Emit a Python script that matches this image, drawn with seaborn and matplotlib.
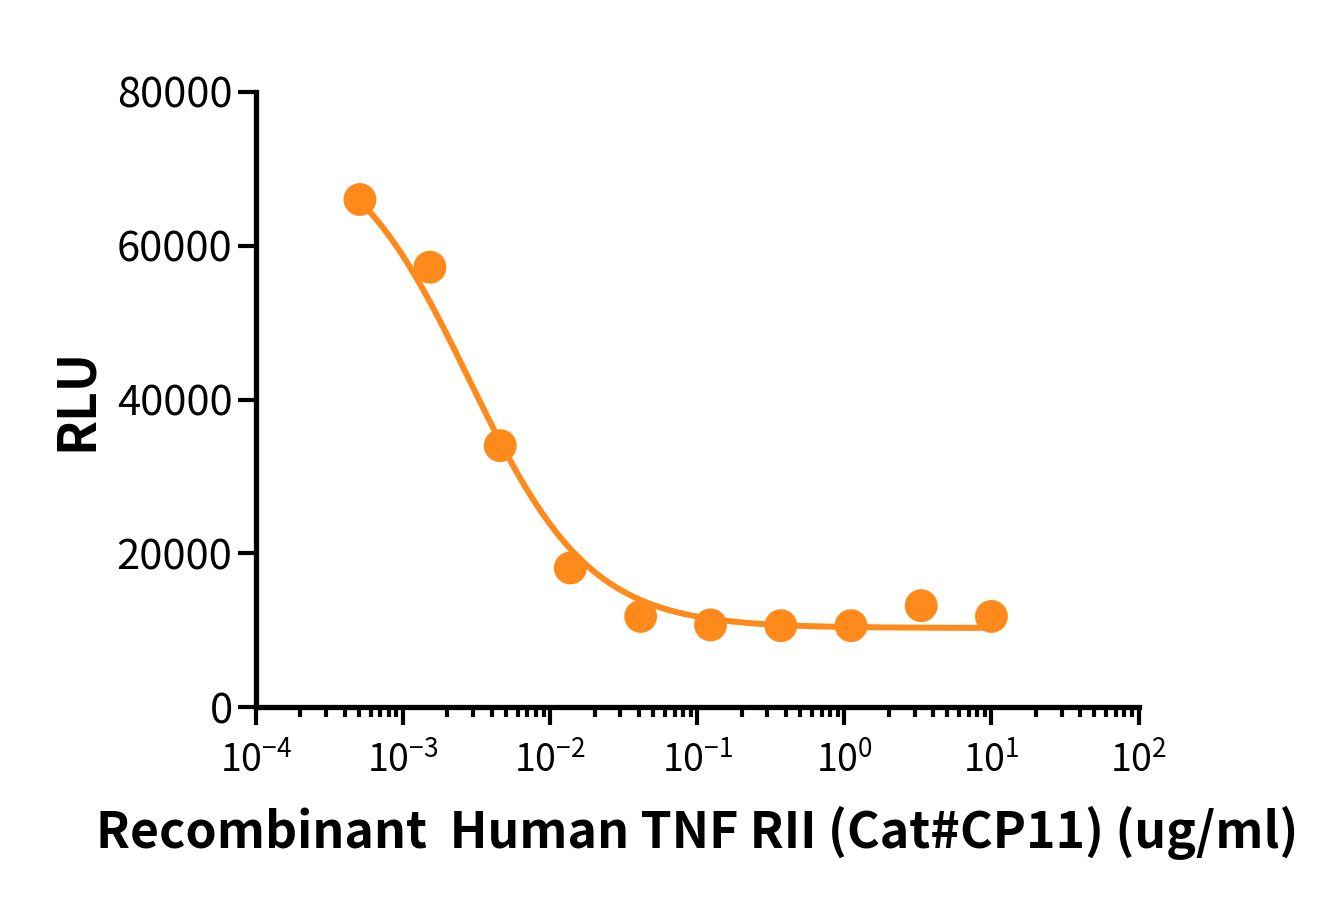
import numpy as np
import pandas as pd
import seaborn as sns
import matplotlib.pyplot as plt
from matplotlib.ticker import LogLocator, FixedLocator, NullFormatter

# measured points (3-fold dilution series)
conc = [0.000508, 0.00152, 0.00457, 0.0137, 0.0412, 0.123, 0.370, 1.11, 3.33, 10.0]
rlu = [66000, 57200, 34000, 18100, 11800, 10700, 10600, 10600, 13200, 11800]

# 4PL fit parameters
top, bottom, ec50, hill = 75000, 10300, 0.0028, 1.05

x_ticks = [1e-4, 1e-3, 1e-2, 1e-1, 1e0, 1e1, 1e2]
x_labels = ['10$^{-4}$', '10$^{-3}$', '10$^{-2}$', '10$^{-1}$', '10$^{0}$', '10$^{1}$', '10$^{2}$']
y_ticks = [0, 20000, 40000, 60000, 80000]

orange = '#FF8A1C'

sns.set_style("ticks")
plt.rcParams['font.family'] = ['Noto Sans CJK SC', 'DejaVu Sans']
plt.rcParams['mathtext.fontset'] = 'custom'
plt.rcParams['mathtext.rm'] = 'Noto Sans CJK SC'
plt.rcParams['mathtext.it'] = 'Noto Sans CJK SC'
plt.rcParams['text.color'] = 'black'
plt.rcParams['axes.labelcolor'] = 'black'

points = pd.DataFrame({'conc': conc, 'rlu': rlu})
xs = np.logspace(np.log10(conc[0]), np.log10(conc[-1]), 300)
fit = pd.DataFrame({'conc': xs,
                    'rlu': bottom + (top - bottom) / (1 + (xs / ec50) ** hill)})

fig = plt.figure(figsize=(13.41, 9.09), dpi=100)
ax = fig.add_axes([0.191, 0.222, 0.658, 0.677])

sns.lineplot(data=fit, x='conc', y='rlu', color=orange, linewidth=4.3, ax=ax)
sns.scatterplot(data=points, x='conc', y='rlu', color=orange, s=560,
                edgecolor='none', ax=ax, zorder=3)

ax.set_xscale('log')
ax.set_xlim(1e-4, 1e2)
ax.set_ylim(0, 80000)
ax.xaxis.set_major_locator(FixedLocator(x_ticks))
ax.set_xticklabels(x_labels)
ax.xaxis.set_minor_locator(LogLocator(base=10, subs=np.arange(2, 10), numticks=50))
ax.xaxis.set_minor_formatter(NullFormatter())
ax.set_yticks(y_ticks)
ax.set_yticklabels([str(v) for v in y_ticks])

for side in ['top', 'right']:
    ax.spines[side].set_visible(False)
for side in ['left', 'bottom']:
    ax.spines[side].set_linewidth(3.8)
    ax.spines[side].set_color('black')

ax.tick_params(axis='both', which='major', length=13, width=3, color='black',
               labelcolor='black')
ax.tick_params(axis='x', which='major', labelsize=27, pad=12)
ax.tick_params(axis='y', which='major', labelsize=30, pad=4)
ax.tick_params(axis='x', which='minor', length=7, width=3, color='black')

ax.set_xlabel('Recombinant  Human TNF RII (Cat#CP11) (ug/ml)', fontsize=36,
              fontweight='bold', labelpad=18)
ax.set_ylabel('RLU', fontsize=37, fontweight='bold', labelpad=10)

fig.savefig('out.png', dpi=100, facecolor='white')
